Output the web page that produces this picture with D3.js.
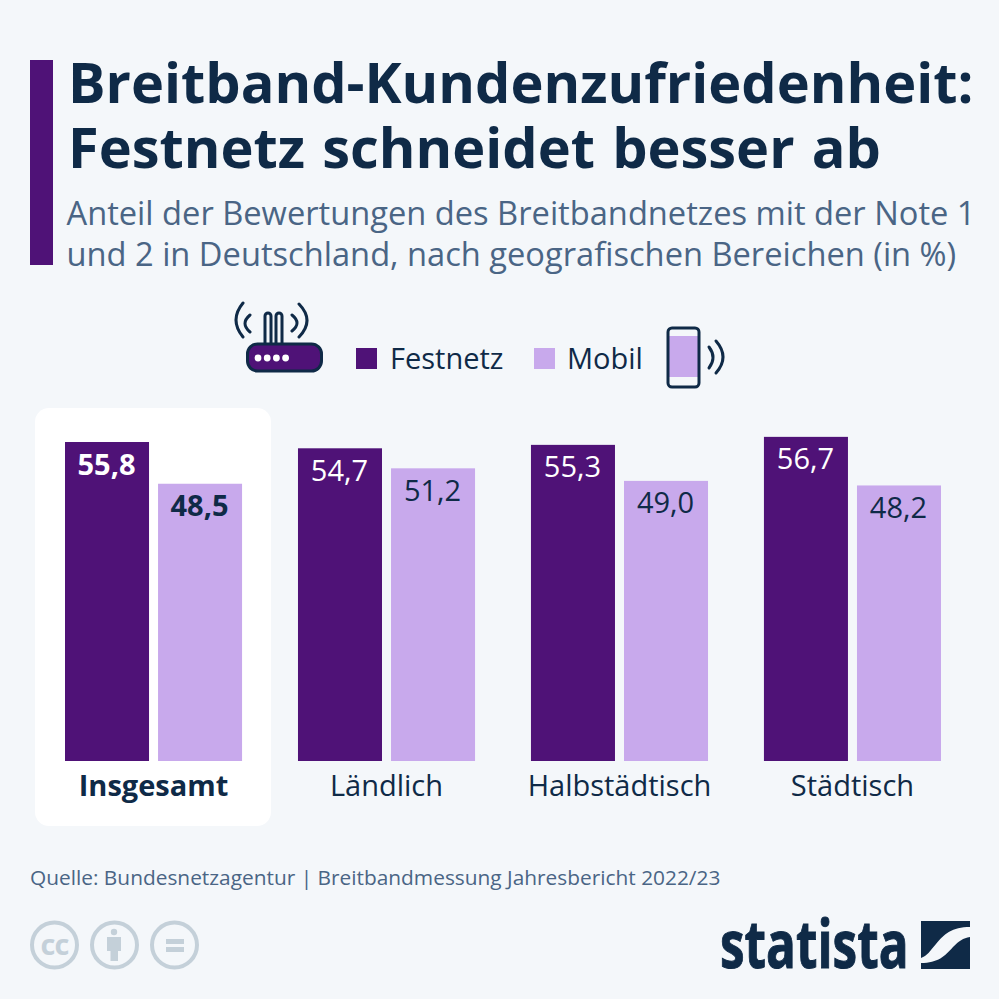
<!DOCTYPE html>
<html>
<head>
<meta charset="UTF-8" />
<title>Breitband-Kundenzufriedenheit</title>
<style>
  html, body { margin: 0; padding: 0; background: #f4f7fa; }
  svg { display: block; }
  text { font-family: "Open Sans", sans-serif; }
</style>
<script src="https://d3js.org/d3.v7.min.js"></script>
</head>
<body>
<div id="main"></div>
<script>
var categories = ['Insgesamt', 'Ländlich', 'Halbstädtisch', 'Städtisch'];
var series = ['Festnetz', 'Mobil'];
var festnetz = [55.8, 54.7, 55.3, 56.7];
var mobil = [48.5, 51.2, 49.0, 48.2];
var titleLines = ['Breitband-Kundenzufriedenheit:', 'Festnetz schneidet besser ab'];
var subtitleLines = ['Anteil der Bewertungen des Breitbandnetzes mit der Note 1', 'und 2 in Deutschland, nach geografischen Bereichen (in %)'];
var source = 'Quelle: Bundesnetzagentur | Breitbandmessung Jahresbericht 2022/23';

var dark = '#0f2a47', purple = '#4f1277', lilac = '#c8a9ec', slate = '#4a6585', grey = '#c4d0d9', bg = '#f4f7fa';

var svg = d3.select('#main').append('svg').attr('width', 999).attr('height', 999);
svg.append('rect').attr('width', 999).attr('height', 999).attr('fill', bg);

// header
svg.append('rect').attr('x', 30).attr('y', 60).attr('width', 23).attr('height', 205).attr('fill', purple);
svg.selectAll('.title').data(titleLines).enter().append('text')
  .attr('class', 'title').attr('x', 68).attr('y', function(d, i) { return 103 + i * 65; })
  .attr('font-size', 55.9).attr('font-weight', 700).attr('fill', dark)
  .attr('word-spacing', 2.7)
  .text(function(d) { return d; });
svg.selectAll('.subtitle').data(subtitleLines).enter().append('text')
  .attr('class', 'subtitle').attr('x', 66.5).attr('y', function(d, i) { return 224.5 + i * 41; })
  .attr('font-size', 32.65).attr('fill', slate)
  .text(function(d) { return d; });

// highlight card
svg.append('rect').attr('x', 35).attr('y', 408).attr('width', 236).attr('height', 418).attr('rx', 14).attr('fill', '#fff');

// scales
var x0 = d3.scaleBand().domain(categories).range([65, 941]).paddingInner(0.24);
var x1 = d3.scaleBand().domain(series).range([0, x0.bandwidth()]).paddingInner(0.097);
var y = d3.scaleLinear().domain([0, 60]).range([761, 418]);
var colors = d3.scaleOrdinal().domain(series).range([purple, lilac]);
var labelColors = d3.scaleOrdinal().domain(series).range(['#fff', dark]);
var fmt = function(v) { return v.toFixed(1).replace('.', ','); };

var groups = svg.selectAll('.group').data(categories).enter().append('g')
  .attr('class', 'group')
  .attr('transform', function(d) { return 'translate(' + x0(d) + ',0)'; });

groups.each(function(cat, i) {
  var g = d3.select(this);
  var vals = [{s: 'Festnetz', v: festnetz[i]}, {s: 'Mobil', v: mobil[i]}];
  g.selectAll('rect').data(vals).enter().append('rect')
    .attr('x', function(d) { return x1(d.s); })
    .attr('y', function(d) { return y(d.v); })
    .attr('width', x1.bandwidth())
    .attr('height', function(d) { return y(0) - y(d.v); })
    .attr('fill', function(d) { return colors(d.s); });
  g.selectAll('.val').data(vals).enter().append('text')
    .attr('class', 'val')
    .attr('x', function(d) { return x1(d.s) + x1.bandwidth() / 2 - 0.5; })
    .attr('y', function(d) { return y(d.v) + 32.5; })
    .attr('text-anchor', 'middle').attr('font-size', 29)
    .attr('font-weight', i === 0 ? 700 : 400)
    .attr('fill', function(d) { return labelColors(d.s); })
    .text(function(d) { return fmt(d.v); });
  g.append('text')
    .attr('x', x0.bandwidth() / 2).attr('y', 795.5)
    .attr('text-anchor', 'middle').attr('font-size', 29)
    .attr('font-weight', i === 0 ? 700 : 400).attr('fill', dark)
    .text(cat);
});

// legend
var legendX = [356, 534], legendTextX = [390, 567];
svg.selectAll('.leg').data(series).enter().append('rect')
  .attr('class', 'leg').attr('x', function(d, i) { return legendX[i]; }).attr('y', 348)
  .attr('width', 21).attr('height', 21).attr('fill', function(d) { return colors(d); });
svg.selectAll('.legt').data(series).enter().append('text')
  .attr('class', 'legt').attr('x', function(d, i) { return legendTextX[i]; }).attr('y', 369)
  .attr('font-size', 29).attr('fill', dark)
  .text(function(d) { return d; });

// router icon
var router = svg.append('g').attr('fill', 'none').attr('stroke', dark).attr('stroke-width', 3).attr('stroke-linecap', 'round');
router.append('path').attr('d', 'M265 344V316a3 3 0 0 1 6 0V344M276 344V316a3 3 0 0 1 6 0V344');
router.append('path').attr('d', 'M243 303q-14 17 0 34M250 315q-10 8.5 0 17M292 315q10 8 0 16M299 304q16 16.5 0 33');
router.append('rect').attr('x', 247.5).attr('y', 344).attr('width', 74).attr('height', 27).attr('rx', 10).attr('fill', purple);
router.selectAll('circle').data([0, 1, 2, 3]).enter().append('circle')
  .attr('cx', function(d) { return 258 + d * 9.2; }).attr('cy', 358).attr('r', 3.4).attr('fill', '#fff').attr('stroke', 'none');

// phone icon
var phone = svg.append('g');
phone.append('rect').attr('x', 668).attr('y', 336).attr('width', 31).attr('height', 41).attr('fill', lilac);
phone.append('rect').attr('x', 668).attr('y', 328).attr('width', 31).attr('height', 59).attr('rx', 4)
  .attr('fill', 'none').attr('stroke', dark).attr('stroke-width', 3);
phone.append('path').attr('d', 'M709 347q8 10.5 0 21M716 341q14 16 0 32')
  .attr('fill', 'none').attr('stroke', dark).attr('stroke-width', 3).attr('stroke-linecap', 'round');

// source
svg.append('text').attr('x', 30).attr('y', 885).attr('font-size', 20.87).attr('fill', slate).text(source);

// licence badges
var badges = svg.selectAll('.badge').data([54.5, 114.5, 174.5]).enter().append('g')
  .attr('class', 'badge').attr('transform', function(d) { return 'translate(' + d + ',945)'; });
badges.append('circle').attr('r', 22.5).attr('fill', 'none').attr('stroke', grey).attr('stroke-width', 4);
svg.append('text').attr('x', 54.5).attr('y', 955).attr('text-anchor', 'middle').attr('font-size', 29).attr('font-weight', 700).attr('fill', grey).attr('letter-spacing', -1).text('cc');
svg.append('circle').attr('cx', 114).attr('cy', 932).attr('r', 3.2).attr('fill', grey);
svg.append('path').attr('d', 'M107 937H121V951H118V961H110.5V951H107Z').attr('fill', grey);
svg.append('path').attr('d', 'M166 939H184V944H166ZM166 947H184V952H166Z').attr('fill', grey);

// logo
svg.append('text').attr('x', 0).attr('y', 0)
  .attr('transform', 'translate(720,968) scale(0.75,1)')
  .attr('font-size', 66).attr('font-weight', 700).attr('fill', dark)
  .attr('stroke', dark).attr('stroke-width', 1).text('statista');
svg.append('path').attr('fill', dark)
  .attr('d', 'M921 921H970V927C952 927 944 934 936 944C930 951 927 956 921 958ZM970 937V969H921V963C938 963 945 956 953 947C959 941 963 938 970 937Z');
</script>
</body>
</html>
